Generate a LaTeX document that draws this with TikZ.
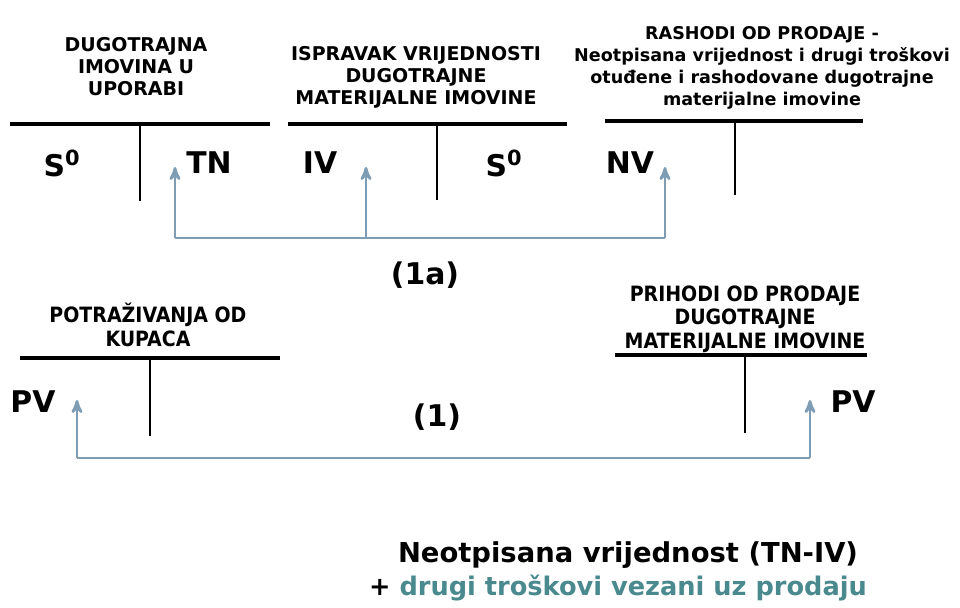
\documentclass[tikz,border=0pt]{standalone}
\usepackage{fontspec}
\setmainfont{DejaVu Sans}
\newfontfamily\narrowfont{DejaVu Sans Condensed}
\usepackage{tikz}
\usetikzlibrary{positioning, calc, arrows}
\definecolor{flowblue}{HTML}{7E9DB4}
\definecolor{noteteal}{HTML}{4A8A8F}

\tikzset{
  head/.style={align=center, inner sep=0pt, font=\fontsize{10.8}{12.5}\selectfont\bfseries},
  headlong/.style={align=center, inner sep=0pt, font=\fontsize{10}{12.5}\selectfont\bfseries},
  headnarrow/.style={align=center, inner sep=0pt, font=\narrowfont\fontsize{12}{13.4}\selectfont\bfseries},
  entry/.style={inner sep=0pt, font=\fontsize{17}{19}\selectfont\bfseries},
  note/.style={inner sep=0pt, font=\fontsize{15.6}{18.5}\selectfont\bfseries},
  tline/.style={line width=2pt},
  tstem/.style={line width=1.3pt},
  flow/.style={flowblue, line width=1.5pt},
}

\begin{document}
\begin{tikzpicture}[x=0.02cm,y=-0.02cm,>=stealth']
      \useasboundingbox (0,0) rectangle (960,608);

      % account headers
      \node[head] (dmu) at (136,67) {DUGOTRAJNA\\IMOVINA U\\UPORABI};
      \node[head] (ivd) at (416,77) {ISPRAVAK VRIJEDNOSTI\\DUGOTRAJNE\\MATERIJALNE IMOVINE};
      \node[headlong] (rop) at (762,68) {RASHODI OD PRODAJE -\\Neotpisana vrijednost i drugi troškovi\\otuđene i rashodovane dugotrajne\\materijalne imovine};
      \node[headnarrow] (pok) at (148,325) {POTRAŽIVANJA OD\\KUPACA};
      \node[headnarrow] (pop) at (745,319) {PRIHODI OD PRODAJE\\DUGOTRAJNE\\MATERIJALNE IMOVINE};

      % T accounts
      \draw[tline] (10,124) -- (270,124);
      \draw[tstem] (140,124) -- (140,201);
      \draw[tline] (288,124) -- (567,124);
      \draw[tstem] (437,124) -- (437,200);
      \draw[tline] (605,121) -- (863,121);
      \draw[tstem] (735,121) -- (735,195);
      \draw[tline] (20,358) -- (280,358);
      \draw[tstem] (150,358) -- (150,436);
      \draw[tline] (615,355) -- (867,355);
      \draw[tstem] (745,355) -- (745,433);

      % entries
      \node[entry] (s_a) at (62,163) {S\textsuperscript{0}};
      \node[entry] (tn) at (209,163) {TN};
      \node[entry] (iv) at (320,163) {IV};
      \node[entry] (s_b) at (504,163) {S\textsuperscript{0}};
      \node[entry] (nv) at (630,163) {NV};
      \node[entry] (pv_a) at (33,402) {PV};
      \node[entry] (pv_b) at (853,402) {PV};

      % booking (1a)
      \coordinate (tn_top) at (175,167);
      \coordinate (iv_top) at (366,167);
      \coordinate (nv_top) at (665,167);
      \coordinate (tn_low) at (175,238);
      \coordinate (iv_low) at (366,238);
      \coordinate (nv_low) at (665,238);
      \draw[flow] (tn_low) -- (nv_low);
      \draw[flow,->] (tn_low) -- (tn_top);
      \draw[flow,->] (iv_low) -- (iv_top);
      \draw[flow,->] (nv_low) -- (nv_top);
      \node[entry] (b1a) at (425,275) {(1a)};

      % booking (1)
      \coordinate (pva_top) at (77,400);
      \coordinate (pvb_top) at (810,400);
      \coordinate (pva_low) at (77,458);
      \coordinate (pvb_low) at (810,458);
      \draw[flow] (pva_low) -- (pvb_low);
      \draw[flow,->] (pva_low) -- (pva_top);
      \draw[flow,->] (pvb_low) -- (pvb_top);
      \node[entry] (b1) at (437,417) {(1)};

      % note
      \node[note] (note_a) at (628,555) {Neotpisana vrijednost (TN-IV)};
      \node[note, font=\fontsize{14.6}{18}\selectfont\bfseries] (note_b) at (618,588)
        {+ \textcolor{noteteal}{drugi troškovi vezani uz prodaju}};
\end{tikzpicture}
\end{document}
